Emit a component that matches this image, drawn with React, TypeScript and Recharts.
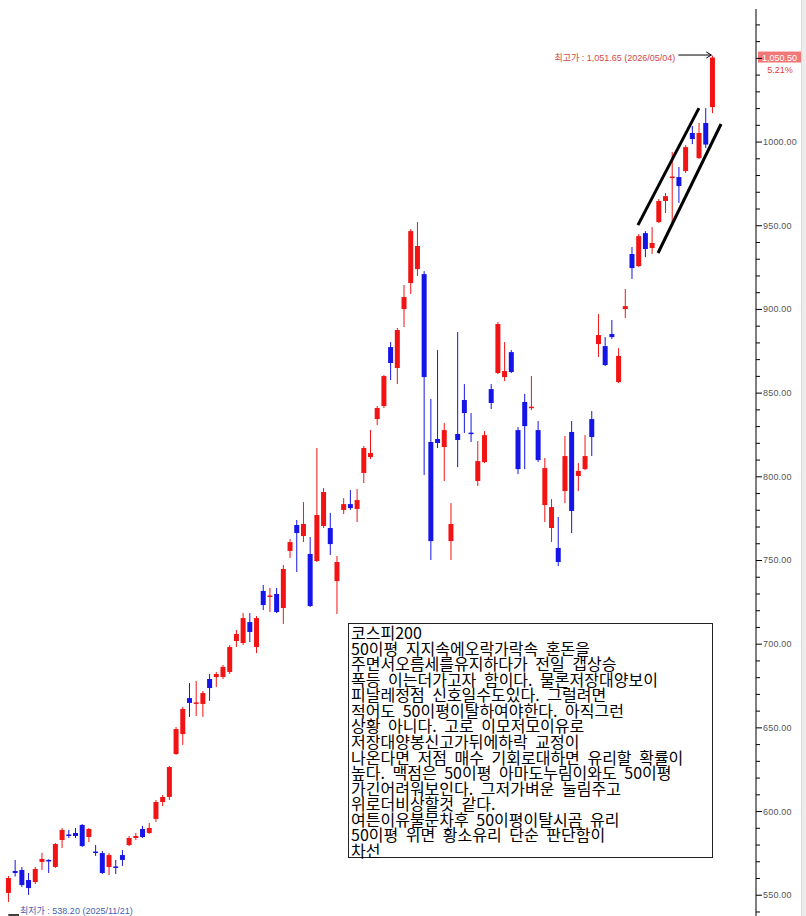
import { Bar, ComposedChart, ReferenceLine, XAxis, YAxis } from "recharts"

// KOSPI 200 daily candles, 2025/11/21 .. 2026/05/04
const opens = [
  551.4, 564.5, 565.1, 559.1, 557.9, 569.9, 571.1, 566.9, 583.0, 586.3,
  587.2, 592.0, 584.8, 576.1, 575.2, 566.9, 567.2, 574.0, 580.0, 584.2,
  589.6, 587.2, 595.6, 605.7, 608.7, 634.4, 646.3, 667.8, 664.6, 664.3,
  679.2, 680.4, 680.4, 683.4, 701.9, 700.7, 713.2, 698.3, 731.8, 728.5,
  730.0, 721.6, 755.7, 771.2, 764.6, 753.9, 749.7, 770.6, 769.4, 737.7,
  780.2, 783.7, 780.8, 802.3, 811.8, 834.5, 842.3, 877.5, 865.0, 900.2,
  915.8, 924.1, 921.1, 820.8, 822.6, 817.8, 761.6, 825.6, 845.9, 826.4,
  797.5, 808.8, 852.4, 862.0, 859.6, 874.5, 827.9, 844.7, 841.5, 827.9,
  783.1, 769.4, 757.5, 791.5, 826.8, 800.5, 804.6, 834.5, 879.3, 878.1,
  885.3, 856.6, 900.2, 933.1, 925.9, 945.6, 936.7, 952.2, 964.8, 978.9,
  979.1, 982.7, 1005.4, 990.4, 1011.4, 1020.9,
]
const highs = [
  561.5, 571.1, 566.9, 563.3, 566.9, 575.3, 571.5, 581.2, 590.2, 589.0,
  590.2, 592.6, 590.2, 580.0, 576.4, 575.2, 571.1, 577.0, 585.4, 587.2,
  591.4, 593.2, 606.9, 609.9, 627.2, 650.5, 662.5, 676.8, 678.0, 672.0,
  682.2, 683.4, 687.6, 699.5, 708.5, 718.6, 718.6, 716.8, 735.4, 733.6,
  733.6, 747.3, 762.8, 774.2, 784.9, 764.0, 817.2, 793.3, 778.4, 752.7,
  787.3, 792.1, 792.7, 818.4, 827.9, 842.3, 860.8, 880.5, 888.9, 914.6,
  948.0, 952.2, 922.9, 846.5, 875.7, 832.1, 784.3, 886.5, 855.4, 838.1,
  821.4, 827.3, 855.4, 892.5, 880.5, 875.7, 829.7, 849.5, 860.2, 833.3,
  811.2, 786.7, 776.0, 824.4, 833.3, 808.2, 824.9, 839.3, 897.2, 883.5,
  893.7, 876.9, 912.2, 937.3, 945.0, 946.8, 949.2, 966.0, 969.5, 994.0,
  985.1, 998.2, 1009.6, 1011.4, 1020.3, 1051.65,
]
const lows = [
  546.0, 561.2, 554.9, 550.2, 556.7, 565.1, 563.3, 566.3, 578.2, 584.2,
  584.2, 578.8, 581.8, 573.5, 562.7, 562.1, 562.7, 567.5, 579.4, 583.0,
  584.2, 586.6, 593.8, 603.3, 606.9, 633.8, 639.8, 656.5, 657.1, 656.5,
  666.1, 674.4, 679.2, 682.2, 698.3, 699.5, 701.3, 694.7, 720.4, 719.2,
  718.6, 712.1, 751.5, 743.1, 761.0, 722.2, 749.1, 769.4, 753.3, 718.0,
  777.8, 780.2, 773.0, 796.3, 810.6, 830.9, 841.1, 857.8, 855.4, 889.5,
  909.2, 920.0, 801.1, 750.3, 817.2, 797.5, 750.3, 805.8, 826.2, 820.8,
  794.5, 808.2, 840.5, 861.4, 857.2, 862.0, 801.7, 804.6, 839.9, 808.8,
  773.0, 761.0, 746.7, 784.3, 766.4, 791.5, 804.0, 812.4, 871.6, 866.2,
  882.3, 856.0, 894.9, 918.2, 925.3, 931.3, 933.1, 951.6, 957.6, 952.2,
  963.6, 981.5, 998.8, 990.0, 996.4, 1017.3,
]
const closes = [
  560.3, 563.3, 556.1, 554.3, 565.7, 571.7, 570.5, 580.6, 589.0, 585.7,
  585.4, 579.4, 589.6, 575.5, 563.3, 574.0, 566.6, 571.1, 584.2, 585.4,
  584.8, 590.2, 605.7, 608.7, 626.6, 649.3, 661.3, 664.9, 665.2, 670.8,
  673.8, 682.2, 686.4, 698.3, 706.1, 715.6, 707.3, 715.6, 723.4, 729.1,
  719.2, 744.9, 761.0, 766.4, 771.8, 722.8, 777.2, 790.9, 759.8, 749.1,
  783.7, 781.3, 786.1, 817.2, 814.2, 841.1, 860.2, 868.0, 887.7, 907.4,
  946.8, 937.9, 859.6, 761.6, 820.2, 827.9, 771.8, 822.0, 838.1, 826.0,
  809.4, 824.9, 844.1, 891.3, 863.2, 862.6, 804.6, 830.3, 841.9, 810.0,
  805.2, 781.9, 749.1, 812.4, 779.6, 803.5, 812.4, 823.8, 884.7, 866.8,
  883.5, 872.2, 902.0, 924.7, 943.8, 936.1, 939.7, 964.8, 967.7, 979.4,
  973.7, 997.0, 1001.8, 1005.4, 998.5, 1050.5,
]

const priceTicks = [
  540, 550, 560, 570, 580, 590, 600, 610, 620, 630, 640, 650, 660, 670, 680,
  690, 700, 710, 720, 730, 740, 750, 760, 770, 780, 790, 800, 810, 820, 830,
  840, 850, 860, 870, 880, 890, 900, 910, 920, 930, 940, 950, 960, 970, 980,
  990, 1000, 1010, 1020, 1030, 1040, 1050, 1060, 1070,
]

// hand-drawn channel (x in candle index units)
const channelUpper = [{ x: 93.9, y: 950.4 }, { x: 103.0, y: 1020.3 }]
const channelLower = [{ x: 96.9, y: 933.7 }, { x: 106.3, y: 1010.8 }]

const highDate = "2026/05/04"
const lowDate = "2025/11/21"
const lowPrice = 538.2

const noteLines = [
  "코스피200",
  "50이평 지지속에오락가락속 혼돈을",
  "주면서오름세를유지하다가 전일 갭상승",
  "폭등 이는더가고자 함이다. 물론저장대양보이",
  "피날레정점 신호일수도있다. 그럴려면",
  "적어도 50이평이탈하여야한다. 아직그런",
  "상황 아니다. 고로 이모저모이유로",
  "저장대양봉신고가뒤에하락 교정이",
  "나온다면 저점 매수 기회로대하면 유리할 확률이",
  "높다. 맥점은 50이평 아마도누림이와도 50이평",
  "가긴어려워보인다. 그저가벼운 눌림주고",
  "위로더비상할것 같다.",
  "여튼이유불문차후 50이평이탈시곰 유리",
  "50이평 위면 황소유리 단순 판단함이",
  "차선",
]

const UP = "#f21414"
const DOWN = "#1515e8"
const FONT = "'Liberation Sans', 'Noto Sans CJK KR', sans-serif"

const candles = opens.map((open, i) => ({
  idx: i,
  open,
  high: highs[i],
  low: lows[i],
  close: closes[i],
}))

const last = closes[closes.length - 1]
const prev = closes[closes.length - 2]
const changePct = ((last / prev - 1) * 100).toFixed(2)
const maxHigh = Math.max(...highs)

const fmt = (v: number) =>
  v.toLocaleString("en-US", { minimumFractionDigits: 2, maximumFractionDigits: 2 })

function Candle(props: any) {
  const { x, y, width, height, payload } = props
  if (!payload || !height) return null
  const { open, close, high, low } = payload
  const k = height / (high - low)
  const yOf = (v: number) => y + (high - v) * k
  const color = close >= open ? UP : DOWN
  const cx = x + width / 2
  const top = yOf(Math.max(open, close))
  const bodyH = Math.max(1.5, yOf(Math.min(open, close)) - top)
  return (
    <g>
      <line x1={cx} x2={cx} y1={y} y2={y + height} stroke={color} strokeWidth={1} />
      <rect x={x} y={top} width={width} height={bodyH} fill={color} />
    </g>
  )
}

function PriceTick(props: any) {
  const { x, y, payload } = props
  const major = payload.value % 50 === 0
  // the last-price box sits over the label nearest to it
  const hidden = Math.abs(payload.value - last) < 6
  return (
    <g>
      <line x1={x} x2={x + (major ? 6 : 4)} y1={y} y2={y} stroke="#000" />
      {major && !hidden && (
        <text x={x + 7} y={y + 3} fontSize={9} fill="#555" fontFamily={FONT} letterSpacing={0.2}>
          {payload.value.toFixed(2)}
        </text>
      )}
    </g>
  )
}

function HighArrow(props: any) {
  const { x1, y1, x2, y2 } = props
  return (
    <g>
      <line x1={x1} y1={y1} x2={x2} y2={y2} stroke="#000" strokeWidth={1} />
      <polyline points={`${x2 - 5},${y2 - 3} ${x2},${y2} ${x2 - 5},${y2 + 3}`} fill="none" stroke="#000" />
      <text x={x1 - 3} y={y1 + 6} textAnchor="end" fontSize={9} fill="#d04848" fontFamily={FONT}>
        {`최고가 : ${fmt(maxHigh)} (${highDate})`}
      </text>
    </g>
  )
}

function LowMark(props: any) {
  const { x1, y1, x2, y2 } = props
  return (
    <g>
      <line x1={x1} y1={y1} x2={x2} y2={y2} stroke="#000" strokeWidth={1.5} />
      <text x={x2 + 1} y={y1 - 1} fontSize={9} fill="#3f62b0" fontFamily={FONT}>
        {`최저가 : ${fmt(lowPrice)} (${lowDate})`}
      </text>
    </g>
  )
}

function LastPrice(props: any) {
  const { x1, x2, y1 } = props
  const right = Math.max(x1, x2)
  return (
    <g>
      <rect x={right + 2} y={y1 - 6} width={43} height={11} fill="#f07878" />
      <text x={right + 23.5} y={y1 + 3} textAnchor="middle" fontSize={9} fill="#fff" fontFamily={FONT}>
        {fmt(last)}
      </text>
      <text x={right + 24} y={y1 + 15} textAnchor="middle" fontSize={9} fill="#e03a3a" fontFamily={FONT}>
        {`${changePct}%`}
      </text>
    </g>
  )
}

export default function App() {
  return (
    <div style={{ position: "absolute", left: 0, top: 0, width: 806, height: 916, background: "#fff", overflow: "hidden" }}>
      <ComposedChart width={806} height={916} data={candles} margin={{ top: 9, right: 0, bottom: 0, left: 0 }}>
        <XAxis dataKey="idx" hide padding={{ left: 4.95, right: 40.35 }} />
        <XAxis xAxisId="n" type="number" dataKey="idx" hide domain={[-1.238, 111.51]} allowDataOverflow />
        <YAxis
          orientation="right"
          width={50}
          domain={[537.6, 1079.5]}
          allowDataOverflow
          ticks={priceTicks}
          interval={0}
          tickSize={0}
          tickMargin={0}
          tickLine={false}
          axisLine={{ stroke: "#000" }}
          tick={(p: any) => <PriceTick {...p} />}
        />
        <Bar
          dataKey={(d: any) => [d.low, d.high]}
          barSize={5}
          isAnimationActive={false}
          shape={(p: any) => <Candle {...p} />}
        />
        <ReferenceLine xAxisId="n" segment={channelUpper} stroke="#000" strokeWidth={3} ifOverflow="visible" />
        <ReferenceLine xAxisId="n" segment={channelLower} stroke="#000" strokeWidth={3} ifOverflow="visible" />
        <ReferenceLine
          xAxisId="n"
          segment={[{ x: 99.93, y: 1052.0 }, { x: 104.85, y: 1052.0 }]}
          ifOverflow="visible"
          shape={(p: any) => <HighArrow {...p} />}
        />
        <ReferenceLine
          xAxisId="n"
          segment={[{ x: 0, y: lowPrice }, { x: 1.6, y: lowPrice }]}
          ifOverflow="visible"
          shape={(p: any) => <LowMark {...p} />}
        />
        <ReferenceLine y={last} ifOverflow="visible" shape={(p: any) => <LastPrice {...p} />} />
      </ComposedChart>
      <div
        style={{
          position: "absolute",
          left: 348,
          top: 623,
          width: 361,
          height: 232,
          border: "1px solid #222",
          background: "#fff",
          padding: "1px 0 0 2px",
          fontFamily: "'Noto Sans CJK KR', sans-serif",
          fontSize: 16,
          lineHeight: "15.57px",
          wordSpacing: 4,
          color: "#000",
          whiteSpace: "pre",
        }}
      >
        {noteLines.map((line) => (
          <div key={line}>{line}</div>
        ))}
      </div>
      <div style={{ position: "absolute", left: 801, top: 0, width: 5, height: 916, background: "#ececec", borderLeft: "1px solid #d8d8d8" }} />
    </div>
  )
}
